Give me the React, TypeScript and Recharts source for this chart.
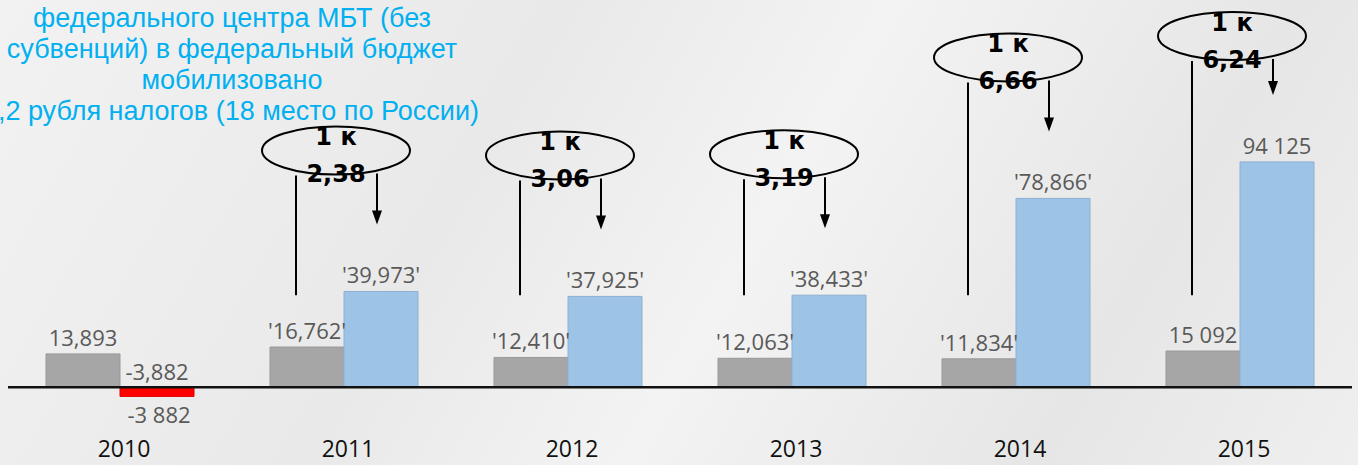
import { BarChart, Bar, XAxis, YAxis, ReferenceLine, LabelList, Cell } from "recharts";

const years = ["2010", "2011", "2012", "2013", "2014", "2015"];
const grayValues = [13893, 16762, 12410, 12063, 11834, 15092];
const blueValues = [-3882, 39973, 37925, 38433, 78866, 94125];
const grayLabels = ["13,893", "'16,762'", "'12,410'", "'12,063'", "'11,834'", "15 092"];
const blueLabels = ["-3,882", "'39,973'", "'37,925'", "'38,433'", "'78,866'", "94 125"];
const negativeNote = "-3 882";
const ratios = ["", "2,38", "3,06", "3,19", "6,66", "6,24"];

const titleLines = [
  "федерального центра МБТ (без",
  "субвенций) в федеральный бюджет",
  "мобилизовано",
];
const titleLast = ",2 рубля налогов (18 место по России)";

const data = years.map((year, i) => ({ year, gray: grayValues[i], blue: blueValues[i] }));

const labelFont = "'Open Sans', sans-serif";

const YearTick = ({ x, y, payload }: any) => (
  <text x={x + 4} y={y + 22} textAnchor="middle" fontFamily={labelFont} fontSize={23} fill="#111">
    {payload.value}
  </text>
);

const GrayLabel = (props: any) => {
  const { x, y, width, height, index } = props;
  const top = Math.min(y, y + height);
  return (
    <text x={x + width / 2} y={top - 8} textAnchor="middle" fontFamily={labelFont} fontSize={22} fill="#595959">
      {grayLabels[index]}
    </text>
  );
};

const BlueLabel = (props: any) => {
  const { x, y, width, height, index } = props;
  const top = Math.min(y, y + height);
  const bottom = Math.max(y, y + height);
  const cx = x + width / 2;

  if (blueValues[index] < 0) {
    return (
      <g>
        <text x={cx} y={top - 7} textAnchor="middle" fontFamily={labelFont} fontSize={22} fill="#595959">
          {blueLabels[index]}
        </text>
        <text x={cx + 2} y={bottom + 27} textAnchor="middle" fontFamily={labelFont} fontSize={22} fill="#595959">
          {negativeNote}
        </text>
      </g>
    );
  }

  const ratio = ratios[index];
  const zeroY = bottom;
  // keep the bubble inside the picture for tall bars
  const ey = Math.max(top - 141, 36);
  const ex = x - 8;
  const lineX = x - 48;
  const arrowX = x + 33;
  const tipY = top - 67;

  return (
    <g>
      <text x={cx} y={top - 8} textAnchor="middle" fontFamily={labelFont} fontSize={22} fill="#595959">
        {blueLabels[index]}
      </text>
      {ratio && (
        <g>
          <ellipse cx={ex} cy={ey} rx={74} ry={24} fill="none" stroke="#000" strokeWidth={2} />
          <text x={ex} y={ey - 5} textAnchor="middle" fontFamily="'DejaVu Sans', sans-serif" fontWeight="bold" fontSize={24} fill="#000">
            1 к
          </text>
          <text x={ex} y={ey + 32} textAnchor="middle" fontFamily="'DejaVu Sans', sans-serif" fontWeight="bold" fontSize={24} fill="#000">
            {ratio}
          </text>
          <line x1={lineX} y1={ey + 25} x2={lineX} y2={zeroY - 92} stroke="#000" strokeWidth={2} />
          <line x1={arrowX} y1={ey + 23} x2={arrowX} y2={tipY - 12} stroke="#000" strokeWidth={2} />
          <polygon points={`${arrowX - 5},${tipY - 14} ${arrowX + 5},${tipY - 14} ${arrowX},${tipY}`} fill="#000" />
        </g>
      )}
    </g>
  );
};

export default function App() {
  return (
    <div
      style={{
        position: "absolute",
        left: 0,
        top: 0,
        width: 1358,
        height: 465,
        overflow: "hidden",
        background: "linear-gradient(120deg, #f2f2f2 0%, #e9e9e9 35%, #f3f3f3 55%, #e6e6e6 80%, #efefef 100%)",
      }}
    >
      <BarChart
        width={1358}
        height={465}
        data={data}
        margin={{ top: 100, right: 6, left: 8, bottom: 0 }}
        barGap={0}
        barSize={74}
      >
        <XAxis
          dataKey="year"
          axisLine={false}
          tickLine={false}
          tickSize={0}
          tickMargin={0}
          height={30}
          tick={<YearTick />}
          interval={0}
        />
        <YAxis hide domain={[-20000, 120000]} />
        <ReferenceLine y={0} stroke="#111" strokeWidth={2.5} />
        <Bar dataKey="gray" fill="#a6a6a6" stroke="#999" strokeWidth={1} isAnimationActive={false}>
          <LabelList dataKey="gray" content={<GrayLabel />} />
        </Bar>
        <Bar dataKey="blue" fill="#9dc3e6" stroke="#8cb0d2" strokeWidth={1} isAnimationActive={false}>
          {blueValues.map((v, i) => (
            <Cell key={i} fill={v < 0 ? "#ff0000" : "#9dc3e6"} stroke={v < 0 ? "#e00000" : "#8cb0d2"} />
          ))}
          <LabelList dataKey="blue" content={<BlueLabel />} />
        </Bar>
      </BarChart>

      <div
        style={{
          position: "absolute",
          left: -18,
          top: 3,
          width: 500,
          textAlign: "center",
          fontFamily: "'Liberation Sans', Arial, sans-serif",
          fontSize: 27,
          lineHeight: "31px",
          color: "#00b0f0",
          pointerEvents: "none",
        }}
      >
        {titleLines.map((line) => (
          <div key={line}>{line}</div>
        ))}
      </div>
      <div
        style={{
          position: "absolute",
          right: 1358 - 479,
          top: 96,
          whiteSpace: "nowrap",
          fontFamily: "'Liberation Sans', Arial, sans-serif",
          fontSize: 27,
          lineHeight: "31px",
          color: "#00b0f0",
          pointerEvents: "none",
        }}
      >
        {titleLast}
      </div>
    </div>
  );
}
